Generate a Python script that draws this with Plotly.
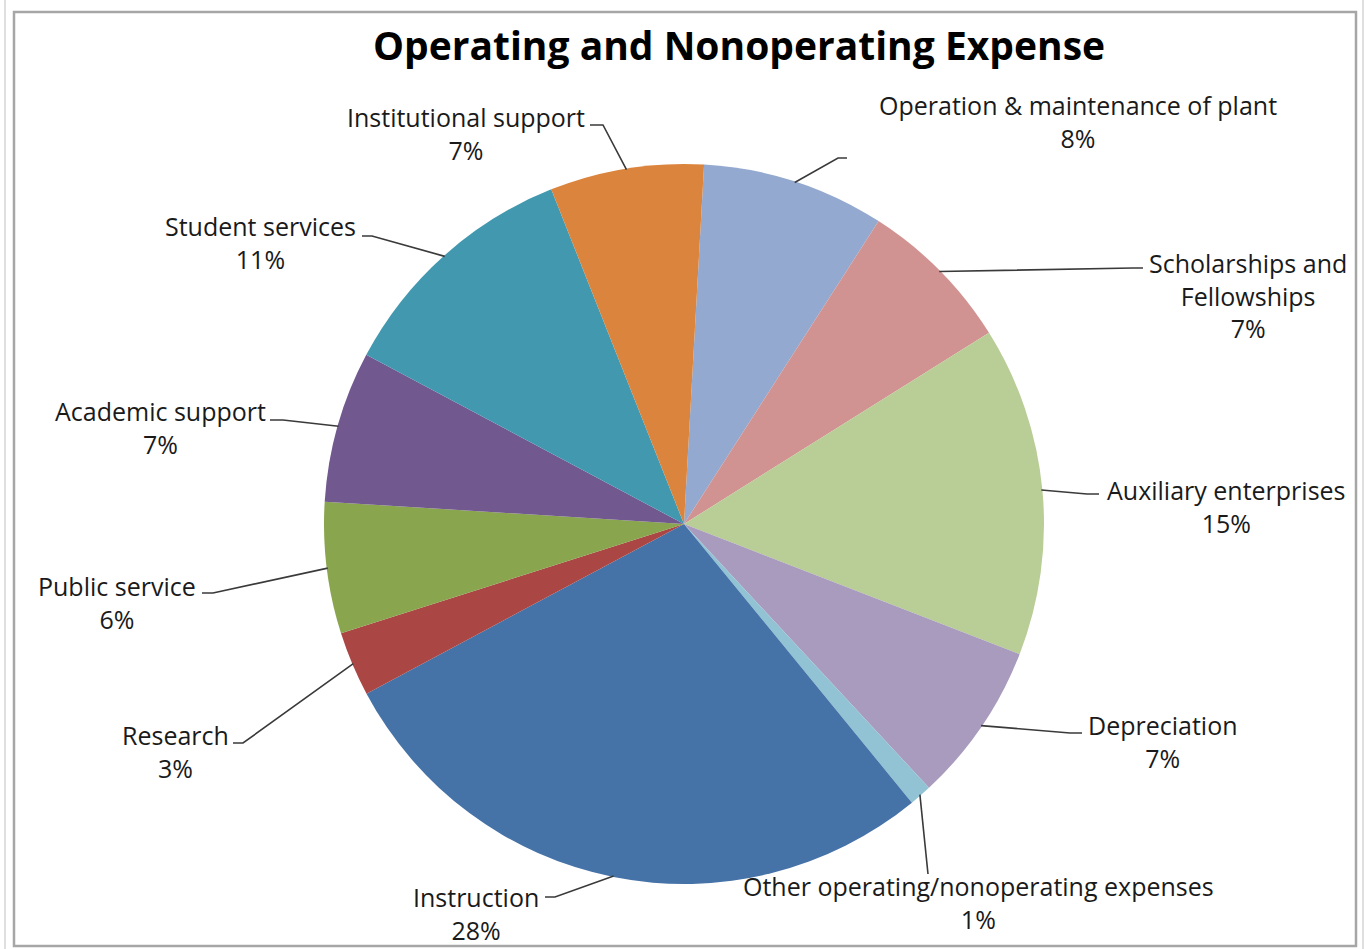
import math
import plotly.graph_objects as go

# ---------------- data ----------------
categories = [
    "Operation & maintenance of plant",
    "Scholarships and Fellowships",
    "Auxiliary enterprises",
    "Depreciation",
    "Other operating/nonoperating expenses",
    "Instruction",
    "Research",
    "Public service",
    "Academic support",
    "Student services",
    "Institutional support",
]
label_text = [
    "Operation & maintenance of plant",
    "Scholarships and<br>Fellowships",
    "Auxiliary enterprises",
    "Depreciation",
    "Other operating/nonoperating expenses",
    "Instruction",
    "Research",
    "Public service",
    "Academic support",
    "Student services",
    "Institutional support",
]
values = [8.2, 7.0, 14.8, 7.2, 1.0, 28.1, 2.9, 5.9, 6.8, 11.2, 6.9]
title_text = "Operating and Nonoperating Expense"

# ---------------- style / layout ----------------
colors = ["#93A9CF", "#D19392", "#B9CD96", "#A99BBD", "#91C3D5", "#4572A7",
          "#AA4643", "#89A54E", "#71588F", "#4198AF", "#DB843D"]

W, H = 1368, 949
CX, CY, R = 684, 524, 360
ROT = 3.2
FONT = "Open Sans"

# label block centres (px) and leader-line knee / end points (px)
label_pos = [(1078, 122), (1248, 295), (1226, 506), (1163, 741), (978, 902),
             (476, 913), (175, 751), (117, 602), (160, 427), (260, 243), (466, 133)]
knee_pos = [(838, 158), (1133, 268), (1087, 494), (1070, 733), (928, 874),
            (555, 897), (243, 743), (213, 593), (283, 420), (372, 236), (603, 125)]
end_pos = [(847, 158), (1143, 268), (1099, 494), (1082, 733), (928, 874),
           (545, 897), (233, 743), (202, 593), (270, 420), (362, 236), (590, 125)]


def fx(x):
    return x / W


def fy(y):
    return 1 - y / H


fig = go.Figure(go.Pie(
    labels=categories,
    values=values,
    sort=False,
    direction="clockwise",
    rotation=ROT,
    marker=dict(colors=colors, line=dict(width=0)),
    textinfo="none",
    hoverinfo="label+percent",
    showlegend=False,
    domain=dict(x=[fx(CX - R), fx(CX + R)], y=[fy(CY + R), fy(CY - R)]),
))

total = sum(values)
annotations = []
shapes = []
cum = 0.0
for i, v in enumerate(values):
    mid = math.radians(ROT + (cum + v / 2) / total * 360)
    cum += v
    sx = CX + (R - 1) * math.sin(mid)
    sy = CY - (R - 1) * math.cos(mid)
    kx, ky = knee_pos[i]
    ex, ey = end_pos[i]
    path = f"M {fx(sx)},{fy(sy)} L {fx(kx)},{fy(ky)} L {fx(ex)},{fy(ey)}"
    shapes.append(dict(type="path", xref="paper", yref="paper", path=path,
                       line=dict(color="#3a3a3a", width=1.6)))
    pct = round(v / total * 100)
    lx, ly = label_pos[i]
    annotations.append(dict(
        x=fx(lx), y=fy(ly), xref="paper", yref="paper",
        text=f"{label_text[i]}<br>{pct}%", showarrow=False,
        xanchor="center", yanchor="middle", align="center",
        font=dict(family=FONT, size=25, color="#1a1a1a"),
    ))

annotations.append(dict(
    x=fx(739), y=fy(45), xref="paper", yref="paper",
    text=f"<b>{title_text}</b>", showarrow=False,
    xanchor="center", yanchor="middle",
    font=dict(family=FONT, size=39, color="#000000"),
))

# chart frame
shapes.append(dict(type="rect", xref="paper", yref="paper",
                   x0=fx(14), x1=fx(1356), y0=fy(946), y1=fy(12),
                   line=dict(color="#a6a6a6", width=2.5)))
shapes.append(dict(type="line", xref="paper", yref="paper",
                   x0=fx(5), x1=fx(5), y0=fy(949), y1=fy(0),
                   line=dict(color="#d4d4d4", width=1.5)))
shapes.append(dict(type="line", xref="paper", yref="paper",
                   x0=fx(1363), x1=fx(1363), y0=fy(949), y1=fy(0),
                   line=dict(color="#d4d4d4", width=1.5)))

fig.update_layout(
    width=W, height=H,
    margin=dict(l=0, r=0, t=0, b=0),
    paper_bgcolor="white",
    plot_bgcolor="white",
    annotations=annotations,
    shapes=shapes,
    font=dict(family=FONT),
)

fig.write_html(
    "out.html",
    config={"displayModeBar": False},
    post_script="document.body.style.margin='0';document.body.style.overflow='hidden';",
)
